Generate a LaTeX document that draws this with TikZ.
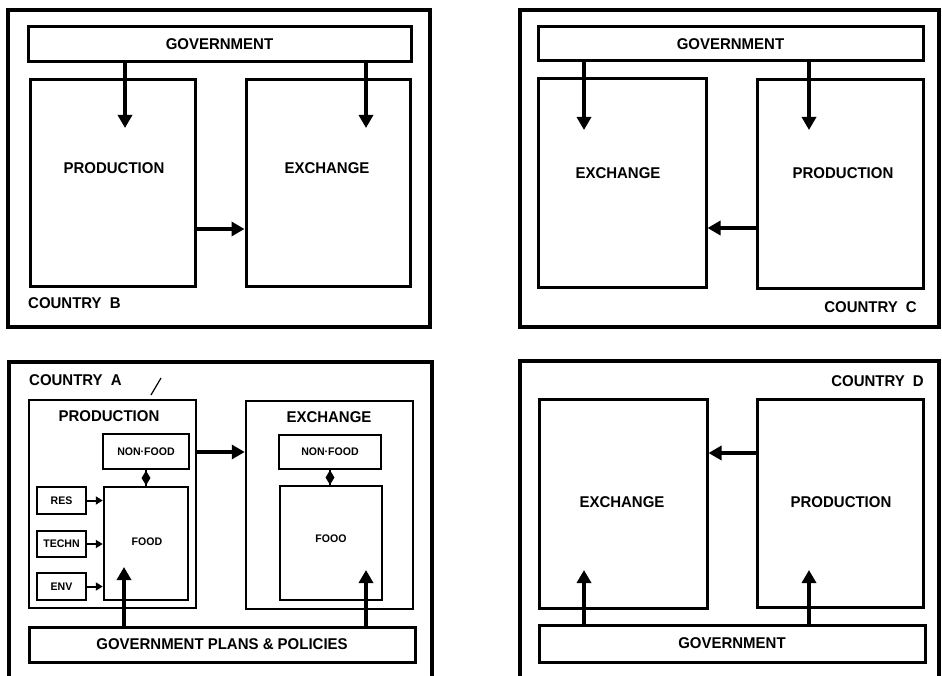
\documentclass[tikz,border=0pt]{standalone}
\usepackage{fontspec}
\setmainfont{Liberation Sans}
\newfontfamily\labfont[FakeStretch=0.96]{Liberation Sans}
\usetikzlibrary{arrows.meta,shapes.geometric,calc}
\newcommand\rbox[7][]{\node[#1,minimum width={(#5)-(#3)},minimum height={(#6)-(#4)}] (#2) at ({((#3)+(#5))/2},{((#4)+(#6))/2}) {#7};}
\begin{document}
\begin{tikzpicture}[x=1pt,y=-1pt,
  frame/.style={draw,line width=4pt,inner sep=0pt},
  frameline/.style={line width=4pt},
  box/.style={draw,line width=3pt,inner sep=0pt},
  ibox/.style={draw,line width=2.5pt,inner sep=0pt},
  sbox/.style={draw,line width=2pt,inner sep=0pt},
  big/.style={font=\labfont\bfseries\fontsize{15.6}{15.6}\selectfont,inner sep=0pt},
  small/.style={font=\labfont\bfseries\fontsize{11}{11}\selectfont,inner sep=0pt},
  arr/.style={line width=3.5pt,-{Triangle[length=13pt,width=14pt]}},
  sarr/.style={line width=2pt,-{Triangle[length=7pt,width=8pt]}},
  dia/.style={diamond,fill=black,inner sep=0pt,minimum width=9pt,minimum height=15pt},
  link/.style={line width=2pt}]
\useasboundingbox[fill=white] (0,0) rectangle (942,676);

% ---------------- Country B ----------------
\rbox[frame]{frmB}{8}{10}{430}{327}{}
\rbox[box,big]{govB}{28}{27}{411}{62}{GOVERNMENT}
\rbox[box]{prodB}{30}{80}{195}{287}{}
\rbox[box]{exchB}{246}{80}{410}{287}{}
\node[big] (lpB) at (114,168) {PRODUCTION};
\node[big] (leB) at (327,168) {EXCHANGE};
\node[big,anchor=west] (cB) at (28,303) {COUNTRY\hspace{4pt} B};
\coordinate (tB1) at (125,128);
\coordinate (tB2) at (366,128);
\coordinate (mB) at (0,229);
\draw[arr] (govB.south -| tB1) -- (tB1);
\draw[arr] (govB.south -| tB2) -- (tB2);
\draw[arr] (prodB.east |- mB) -- (exchB.west |- mB);

% ---------------- Country C ----------------
\rbox[frame]{frmC}{520}{10}{939}{327}{}
\rbox[box,big]{govC}{538}{27}{923}{61}{GOVERNMENT}
\rbox[box]{exchC}{538}{79}{706}{288}{}
\rbox[box]{prodC}{757}{80}{923}{289}{}
\node[big] (leC) at (618,173) {EXCHANGE};
\node[big] (lpC) at (843,173) {PRODUCTION};
\node[big,anchor=east] (cC) at (917,307) {COUNTRY\hspace{4pt} C};
\coordinate (tC1) at (584,130);
\coordinate (tC2) at (809,130);
\coordinate (mC) at (0,228);
\draw[arr] (govC.south -| tC1) -- (tC1);
\draw[arr] (govC.south -| tC2) -- (tC2);
\draw[arr] (prodC.west |- mC) -- (exchC.east |- mC);

% ---------------- Country A ----------------
\draw[frameline] (9,676) -- (9,362) -- (432,362) -- (432,676);
\node[big,anchor=west] (cA) at (29,380) {COUNTRY\hspace{4pt} A};
\coordinate (s1) at (151,395);
\coordinate (s2) at (161,378);
\draw[line width=1.2pt] (s1) -- (s2);
\rbox[ibox]{prodA}{29}{400}{196}{608}{}
\node[big] (lpA) at (109,416) {PRODUCTION};
\rbox[ibox,small]{nfA}{103}{434}{189}{469}{NON·FOOD}
\rbox[ibox]{foodA}{104}{487}{188}{600}{}
\node[small] (lfA) at (147,542) {FOOD};
\rbox[sbox,small]{resA}{37}{487}{86}{514}{RES}
\rbox[sbox,small]{techA}{37}{531}{86}{557}{TECHN}
\rbox[sbox,small]{envA}{37}{573}{86}{600}{ENV}
\draw[sarr] (resA.east) -- (resA.east -| foodA.west);
\draw[sarr] (techA.east) -- (techA.east -| foodA.west);
\draw[sarr] (envA.east) -- (envA.east -| foodA.west);
\draw[link] (nfA.south) -- (foodA.north);
\node[dia] (d1) at ($(nfA.south)!0.5!(foodA.north)$) {};
\rbox[ibox]{exchA}{246}{401}{413}{609}{}
\node[big] (leA) at (329,417) {EXCHANGE};
\rbox[ibox,small]{nfA2}{279}{435}{381}{469}{NON·FOOD}
\rbox[ibox]{foodA2}{280}{486}{382}{600}{}
\node[small] (lfA2) at (331,539) {FOOO};
\draw[link] (nfA2.south) -- (nfA2.south |- foodA2.north);
\node[dia] (d2) at ($(nfA2.south)!0.5!(nfA2.south |- foodA2.north)$) {};
\rbox[box,big]{govA}{29}{627}{415}{662}{GOVERNMENT PLANS \& POLICIES}
\coordinate (tA1) at (124,567);
\coordinate (tA2) at (366,570);
\coordinate (mA) at (0,452);
\draw[arr] (govA.north -| tA1) -- (tA1);
\draw[arr] (govA.north -| tA2) -- (tA2);
\draw[arr] (prodA.east |- mA) -- (exchA.west |- mA);

% ---------------- Country D ----------------
\draw[frameline] (520,676) -- (520,361) -- (939,361) -- (939,676);
\node[big,anchor=east] (cD) at (924,381) {COUNTRY\hspace{4pt} D};
\rbox[box]{exchD}{539}{399}{707}{608}{}
\rbox[box]{prodD}{757}{399}{923}{607}{}
\node[big] (leD) at (622,502) {EXCHANGE};
\node[big] (lpD) at (841,502) {PRODUCTION};
\rbox[box,big]{govD}{539}{625}{925}{662}{GOVERNMENT}
\coordinate (tD1) at (584,570);
\coordinate (tD2) at (809,570);
\coordinate (mD) at (0,453);
\draw[arr] (govD.north -| tD1) -- (tD1);
\draw[arr] (govD.north -| tD2) -- (tD2);
\draw[arr] (prodD.west |- mD) -- (exchD.east |- mD);
\end{tikzpicture}
\end{document}
